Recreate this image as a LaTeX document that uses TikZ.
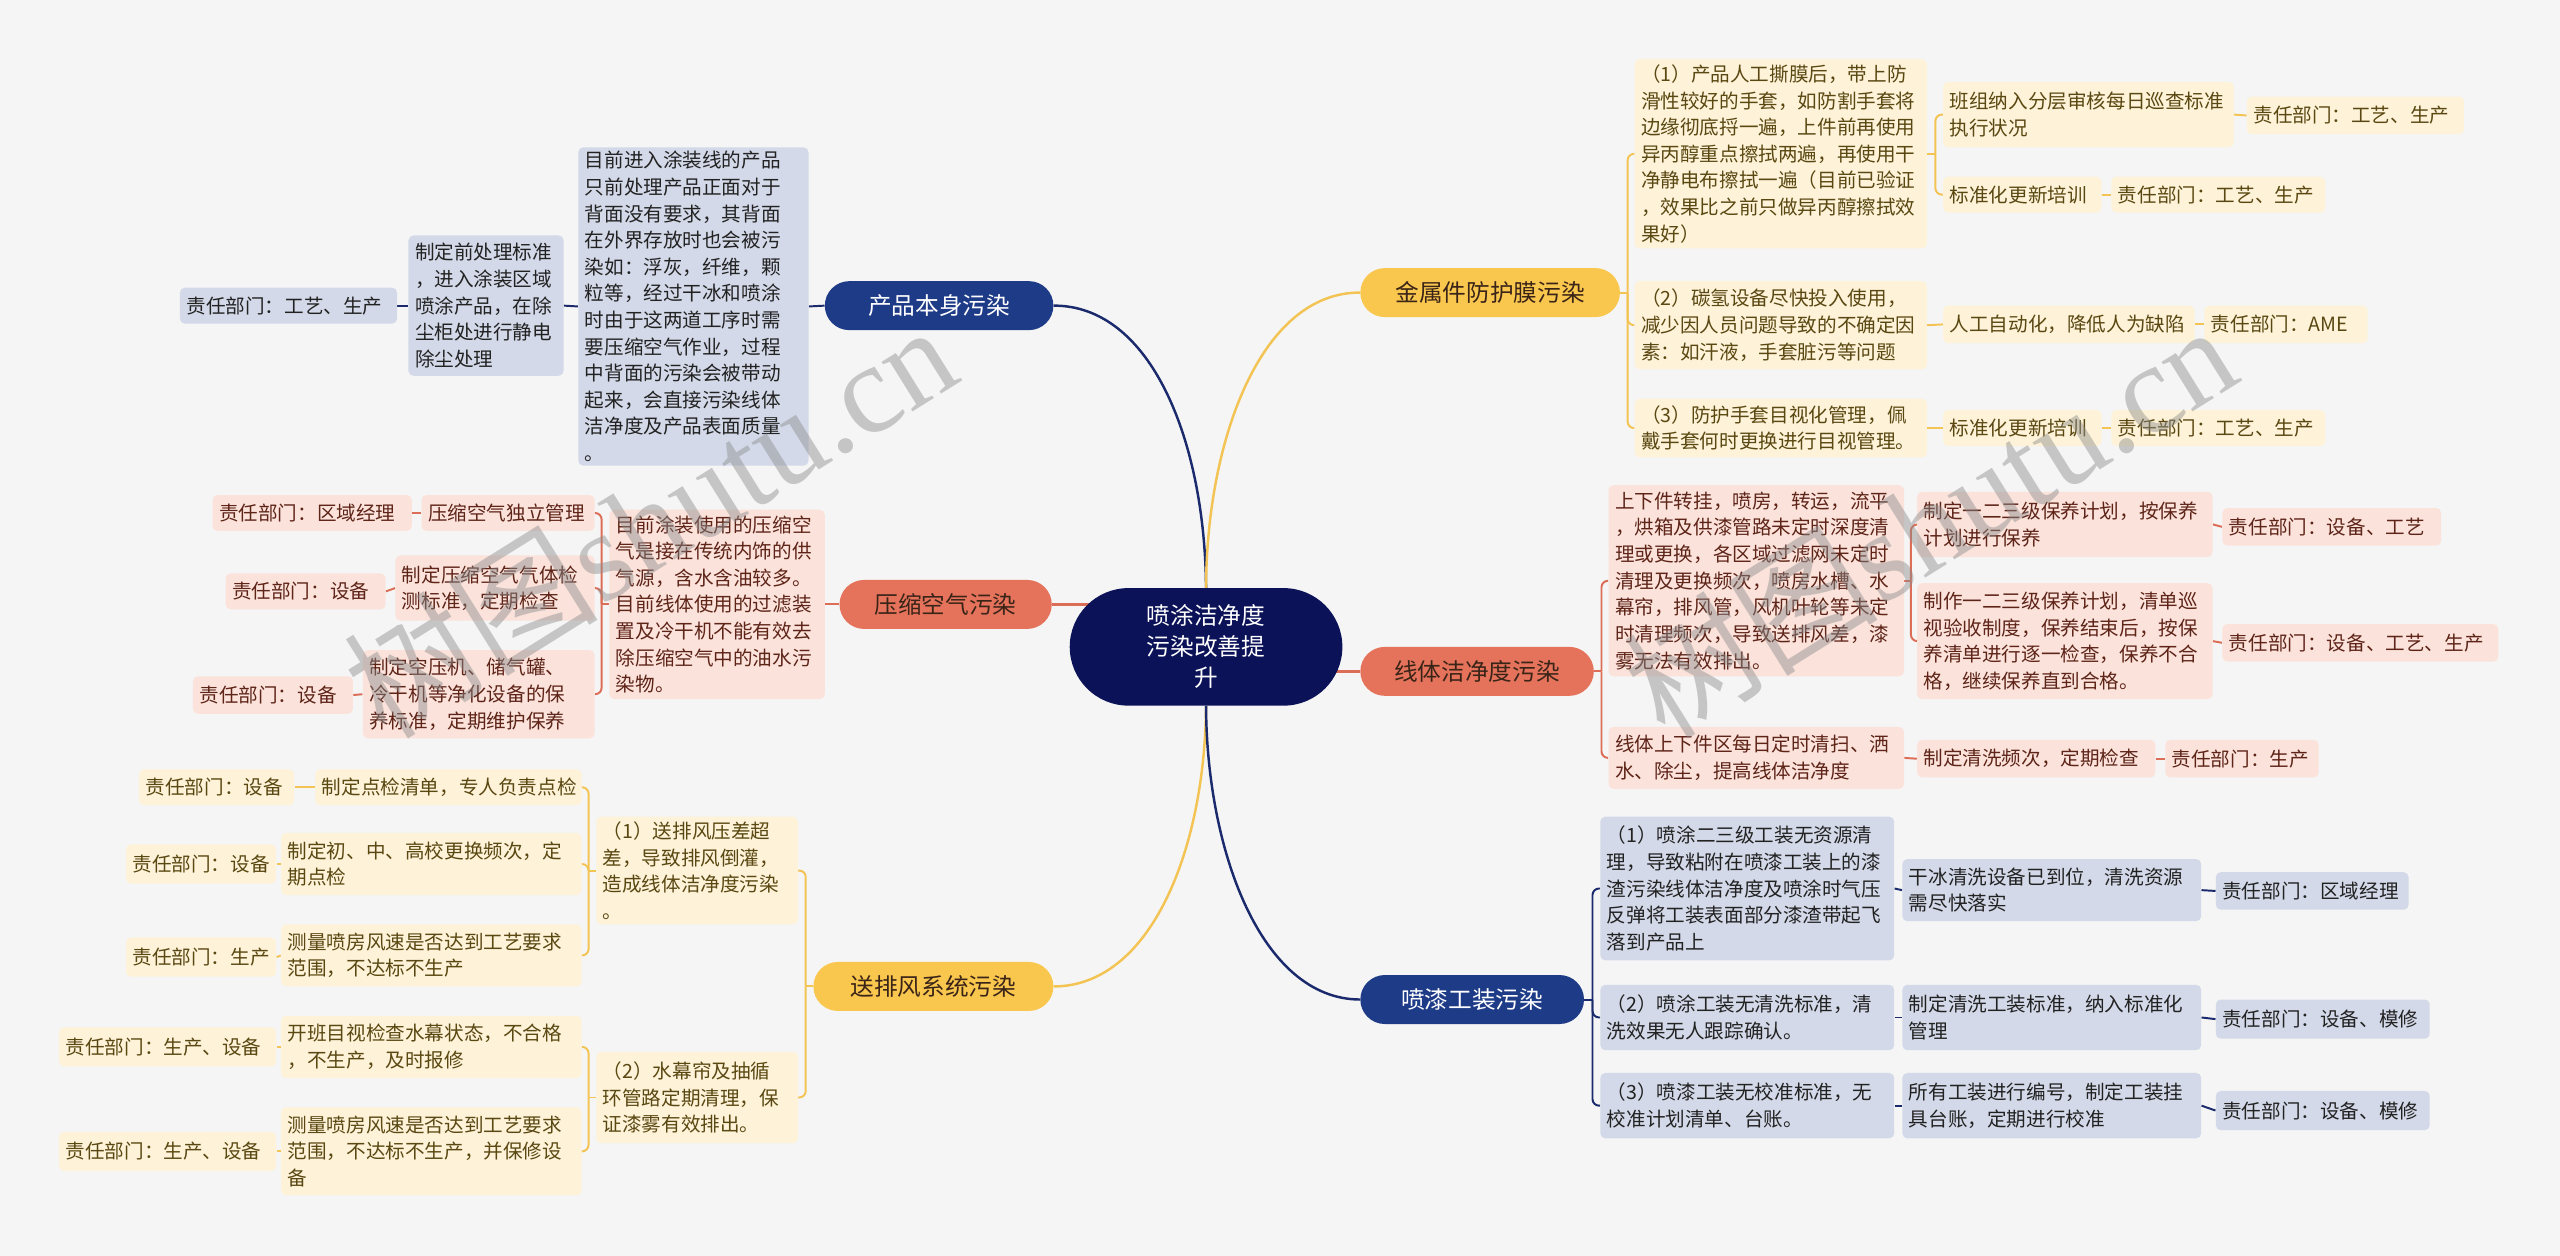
\documentclass[tikz,border=0pt]{standalone}
\usepackage{fontspec}
\setmainfont{Noto Sans CJK SC}
\newfontfamily\wmserif{Liberation Serif}
\definecolor{bgc}{HTML}{F5F5F5}
\definecolor{navy}{HTML}{0B1257}
\definecolor{bluebr}{HTML}{1E3B87}
\definecolor{bluelt}{HTML}{D3D9E8}
\definecolor{bluetx}{HTML}{222222}
\definecolor{bluel}{HTML}{1A2A6C}
\definecolor{salbr}{HTML}{E5735B}
\definecolor{sallt}{HTML}{FBE3DB}
\definecolor{saltx}{HTML}{5E2418}
\definecolor{sall}{HTML}{DC6D56}
\definecolor{yelbr}{HTML}{F9C64E}
\definecolor{yellt}{HTML}{FEF2D8}
\definecolor{yeltx}{HTML}{5A4812}
\definecolor{yell}{HTML}{F3C453}
\definecolor{brtx}{HTML}{3A2418}
\pgfdeclarelayer{bgl}
\pgfdeclarelayer{lines}
\pgfdeclarelayer{wm}
\pgfsetlayers{bgl,lines,main,wm}
\newcommand\bx[7]{%
  \pgfmathsetmacro\mybw{#5-#3}\pgfmathsetmacro\mybh{#6-#4}\pgfmathsetmacro\mytw{#5-#3-8}%
  \node[#2, anchor=north west, minimum width=\mybw pt, minimum height=\mybh pt, text width=\mytw pt] (#1) at (#3,#4) {#7};}
\tikzset{
  lb/.style={rectangle, rounded corners=3pt, inner xsep=4pt, inner ysep=2pt, align=left, font=\fontsize{12}{16.3}\selectfont},
  bb/.style={lb, fill=bluelt, text=bluetx},
  sb/.style={lb, fill=sallt, text=saltx},
  yb/.style={lb, fill=yellt, text=yeltx},
  br/.style={rectangle, rounded corners=15pt, inner xsep=4pt, inner ysep=2pt, align=center, font=\fontsize{14.5}{18}\selectfont},
  bl/.style={draw=bluel, line width=1.2pt},
  sl/.style={draw=sall, line width=1.2pt},
  yl/.style={draw=yell, line width=1.2pt},
  brk/.style={rounded corners=4pt},
  wmark/.style={rotate=32, text=black!45, opacity=0.45, font=\fontsize{78}{80}\selectfont, inner sep=0pt}
}
\begin{document}
\begin{tikzpicture}[x=1pt,y=-1pt]
\useasboundingbox (0,0) rectangle (1568,769);
\begin{pgfonlayer}{bgl}
\fill[bgc] (0,0) rectangle (1568,769);
\end{pgfonlayer}

% center and main branches
\bx{c}{br, fill=navy, text=white, rounded corners=36pt, font=\fontsize{14.5}{19}\selectfont}{655}{360}{822}{432}{喷涂洁净度\\污染改善提\\升}
\bx{pb}{br, fill=bluebr, text=white}{505}{172}{645}{202}{产品本身污染}
\bx{yq}{br, fill=salbr, text=brtx}{514}{355}{644}{385}{压缩空气污染}
\bx{sp}{br, fill=yelbr, text=brtx}{498}{589}{645}{619}{送排风系统污染}
\bx{jm}{br, fill=yelbr, text=brtx}{833}{164}{992}{194}{金属件防护膜污染}
\bx{xt}{br, fill=salbr, text=brtx}{833}{396}{976}{426}{线体洁净度污染}
\bx{pq}{br, fill=bluebr, text=white}{833}{597}{970}{627}{喷漆工装污染}

% blue left
\bx{pb1}{bb}{354}{90}{495}{285}{目前进入涂装线的产品\\只前处理产品正面对于\\背面没有要求，其背面\\在外界存放时也会被污\\染如：浮灰，纤维，颗\\粒等，经过干冰和喷涂\\时由于这两道工序时需\\要压缩空气作业，过程\\中背面的污染会被带动\\起来，会直接污染线体\\洁净度及产品表面质量\\。}
\bx{pb2}{bb}{250}{144}{345}{230}{制定前处理标准\\，进入涂装区域\\喷涂产品，在除\\尘柜处进行静电\\除尘处理}
\bx{pb3}{bb}{110}{176}{243}{198}{责任部门：工艺、生产}

% salmon left
\bx{yq1}{sb}{373}{312}{505}{428}{目前涂装使用的压缩空\\气是接在传统内饰的供\\气源，含水含油较多。\\目前线体使用的过滤装\\置及冷干机不能有效去\\除压缩空气中的油水污\\染物。}
\bx{yq2}{sb}{258}{303}{364}{325}{压缩空气独立管理}
\bx{yq2a}{sb}{130}{303}{252}{325}{责任部门：区域经理}
\bx{yq3}{sb}{242}{340}{364}{380}{制定压缩空气气体检\\测标准，定期检查}
\bx{yq3a}{sb}{138}{351}{236}{373}{责任部门：设备}
\bx{yq4}{sb}{222}{398}{364}{452}{制定空压机、储气罐、\\冷干机等净化设备的保\\养标准，定期维护保养}
\bx{yq4a}{sb}{118}{414}{216}{437}{责任部门：设备}

% yellow left
\bx{sp1}{yb}{365}{500}{488.5}{566}{（1）送排风压差超\\差，导致排风倒灌，\\造成线体洁净度污染\\。}
\bx{sp2}{yb}{365}{644}{488.5}{700}{（2）水幕帘及抽循\\环管路定期清理，保\\证漆雾有效排出。}
\bx{sp1a}{yb}{193}{471}{356}{493}{制定点检清单，专人负责点检}
\bx{sp1aa}{yb}{85}{471}{180}{493}{责任部门：设备}
\bx{sp1b}{yb}{172}{510}{356}{548}{制定初、中、高校更换频次，定\\期点检}
\bx{sp1bb}{yb}{77}{517}{169}{541}{责任部门：设备}
\bx{sp1c}{yb}{172}{566}{356}{604}{测量喷房风速是否达到工艺要求\\范围，不达标不生产}
\bx{sp1cc}{yb}{77}{574}{169}{598}{责任部门：生产}
\bx{sp2a}{yb}{172}{622}{356}{660}{开班目视检查水幕状态，不合格\\，不生产，及时报修}
\bx{sp2aa}{yb}{36}{629}{169}{653}{责任部门：生产、设备}
\bx{sp2b}{yb}{172}{678}{356}{732}{测量喷房风速是否达到工艺要求\\范围，不达标不生产，并保修设\\备}
\bx{sp2bb}{yb}{36}{693}{169}{717}{责任部门：生产、设备}

% yellow right
\bx{jm1}{yb}{1001}{36}{1180}{152}{（1）产品人工撕膜后，带上防\\滑性较好的手套，如防割手套将\\边缘彻底捋一遍，上件前再使用\\异丙醇重点擦拭两遍，再使用干\\净静电布擦拭一遍（目前已验证\\，效果比之前只做异丙醇擦拭效\\果好）}
\bx{jm2}{yb}{1001}{172}{1180}{226}{（2）碳氢设备尽快投入使用，\\减少因人员问题导致的不确定因\\素：如汗液，手套脏污等问题}
\bx{jm3}{yb}{1001}{244}{1180}{280}{（3）防护手套目视化管理，佩\\戴手套何时更换进行目视管理。}
\bx{jm1a}{yb}{1190}{50}{1368}{90}{班组纳入分层审核每日巡查标准\\执行状况}
\bx{jm1aa}{yb}{1376}{59}{1509}{82}{责任部门：工艺、生产}
\bx{jm1b}{yb}{1190}{108}{1287}{130}{标准化更新培训}
\bx{jm1bb}{yb}{1293}{108}{1424}{130}{责任部门：工艺、生产}
\bx{jm2a}{yb}{1190}{187}{1344}{210}{人工自动化，降低人为缺陷}
\bx{jm2aa}{yb}{1350}{187}{1450}{210}{责任部门：AME}
\bx{jm3a}{yb}{1190}{251}{1287}{273}{标准化更新培训}
\bx{jm3aa}{yb}{1293}{251}{1424}{273}{责任部门：工艺、生产}

% salmon right
\bx{xt1}{sb}{985}{297}{1166}{414}{上下件转挂，喷房，转运，流平\\，烘箱及供漆管路未定时深度清\\理或更换，各区域过滤网未定时\\清理及更换频次，喷房水槽、水\\幕帘，排风管，风机叶轮等未定\\时清理频次，导致送排风差，漆\\雾无法有效排出。}
\bx{xt2}{sb}{985}{445}{1166}{483}{线体上下件区每日定时清扫、洒\\水、除尘，提高线体洁净度}
\bx{xt1a}{sb}{1174}{301}{1355}{341}{制定一二三级保养计划，按保养\\计划进行保养}
\bx{xt1aa}{sb}{1361}{311}{1495}{334}{责任部门：设备、工艺}
\bx{xt1b}{sb}{1174}{357}{1355}{428}{制作一二三级保养计划，清单巡\\视验收制度，保养结束后，按保\\养清单进行逐一检查，保养不合\\格，继续保养直到合格。}
\bx{xt1bb}{sb}{1361}{382}{1530}{405}{责任部门：设备、工艺、生产}
\bx{xt2a}{sb}{1174}{453}{1320}{476}{制定清洗频次，定期检查}
\bx{xt2aa}{sb}{1326}{453}{1420}{476}{责任部门：生产}

% blue right
\bx{pq1}{bb}{980}{500}{1160}{588}{（1）喷涂二三级工装无资源清\\理，导致粘附在喷漆工装上的漆\\渣污染线体洁净度及喷涂时气压\\反弹将工装表面部分漆渣带起飞\\落到产品上}
\bx{pq2}{bb}{980}{603}{1160}{643}{（2）喷涂工装无清洗标准，清\\洗效果无人跟踪确认。}
\bx{pq3}{bb}{980}{657}{1160}{697}{（3）喷漆工装无校准标准，无\\校准计划清单、台账。}
\bx{pq1a}{bb}{1165}{526}{1348}{564}{干冰清洗设备已到位，清洗资源\\需尽快落实}
\bx{pq1aa}{bb}{1357}{534}{1475}{557}{责任部门：区域经理}
\bx{pq2a}{bb}{1165}{603}{1348}{643}{制定清洗工装标准，纳入标准化\\管理}
\bx{pq2aa}{bb}{1357}{612}{1488}{636}{责任部门：设备、模修}
\bx{pq3a}{bb}{1165}{657}{1348}{697}{所有工装进行编号，制定工装挂\\具台账，定期进行校准}
\bx{pq3aa}{bb}{1357}{668}{1488}{692}{责任部门：设备、模修}

\begin{pgfonlayer}{lines}
% center connectors
\draw[bl, line width=1.5pt] (pb.east) .. controls (705,187) and (738,270) .. (c.north);
\draw[yl, line width=1.5pt] (c.north) .. controls (739,270) and (772,179) .. (jm.west);
\draw[yl, line width=1.5pt] (c.south) .. controls (738,520) and (705,604) .. (sp.east);
\draw[bl, line width=1.5pt] (c.south) .. controls (739,520) and (772,612) .. (pq.west);
\draw[sl, line width=1.5pt] (yq.east) -- (yq.east -| c.center);
\draw[sl, line width=1.5pt] (xt.west) -- (xt.west -| c.center);

% blue left
\draw[bl] (pb.west) -- (pb1.east);
\draw[bl] (pb1.west) -- (pb2.east);
\draw[bl] (pb2.west) -- (pb3.east);
% salmon left
\draw[sl] (yq.west) -- (yq1.east);
\draw[sl] (yq1.west) -- ++(-4.5,0);
\foreach \n in {yq2,yq3,yq4} \draw[sl,brk] (yq1.west) ++(-4.5,0) |- (\n.east);
\draw[sl] (yq2.west) -- (yq2a.east);
\draw[sl] (yq3.west) -- (yq3a.east);
\draw[sl] (yq4.west) -- (yq4a.east);
% yellow left
\draw[yl] (sp.west) -- ++(-4.5,0);
\foreach \n in {sp1,sp2} \draw[yl,brk] (sp.west) ++(-4.5,0) |- (\n.east);
\draw[yl] (sp1.west) -- ++(-4.5,0);
\foreach \n in {sp1a,sp1b,sp1c} \draw[yl,brk] (sp1.west) ++(-4.5,0) |- (\n.east);
\draw[yl] (sp2.west) -- ++(-4.5,0);
\foreach \n in {sp2a,sp2b} \draw[yl,brk] (sp2.west) ++(-4.5,0) |- (\n.east);
\draw[yl] (sp1a.west) -- (sp1aa.east);
\draw[yl] (sp1b.west) -- (sp1bb.east);
\draw[yl] (sp1c.west) -- (sp1cc.east);
\draw[yl] (sp2a.west) -- (sp2aa.east);
\draw[yl] (sp2b.west) -- (sp2bb.east);
% yellow right
\draw[yl] (jm.east) -- ++(4.5,0);
\foreach \n in {jm1,jm2,jm3} \draw[yl,brk] (jm.east) ++(4.5,0) |- (\n.west);
\draw[yl] (jm1.east) -- ++(5,0);
\foreach \n in {jm1a,jm1b} \draw[yl,brk] (jm1.east) ++(5,0) |- (\n.west);
\draw[yl] (jm1a.east) -- (jm1aa.west);
\draw[yl] (jm1b.east) -- (jm1bb.west);
\draw[yl] (jm2.east) -- (jm2a.west);
\draw[yl] (jm2a.east) -- (jm2aa.west);
\draw[yl] (jm3.east) -- (jm3a.west);
\draw[yl] (jm3a.east) -- (jm3aa.west);
% salmon right
\draw[sl] (xt.east) -- ++(4.5,0);
\foreach \n in {xt1,xt2} \draw[sl,brk] (xt.east) ++(4.5,0) |- (\n.west);
\draw[sl] (xt1.east) -- ++(4,0);
\foreach \n in {xt1a,xt1b} \draw[sl,brk] (xt1.east) ++(4,0) |- (\n.west);
\draw[sl] (xt1a.east) -- (xt1aa.west);
\draw[sl] (xt1b.east) -- (xt1bb.west);
\draw[sl] (xt2.east) -- (xt2a.west);
\draw[sl] (xt2a.east) -- (xt2aa.west);
% blue right
\draw[bl] (pq.east) -- ++(5,0);
\foreach \n in {pq1,pq2,pq3} \draw[bl,brk] (pq.east) ++(5,0) |- (\n.west);
\draw[bl] (pq1.east) -- (pq1a.west);
\draw[bl] (pq1a.east) -- (pq1aa.west);
\draw[bl] (pq2.east) -- (pq2a.west);
\draw[bl] (pq2a.east) -- (pq2aa.west);
\draw[bl] (pq3.east) -- (pq3a.west);
\draw[bl] (pq3a.east) -- (pq3aa.west);
\end{pgfonlayer}

\begin{pgfonlayer}{wm}
\node[wmark] (wm1) at (398,318) {树图{\wmserif shutu.cn}};
\node[wmark] (wm2) at (1182,318) {树图{\wmserif shutu.cn}};
\end{pgfonlayer}
\end{tikzpicture}
\end{document}
